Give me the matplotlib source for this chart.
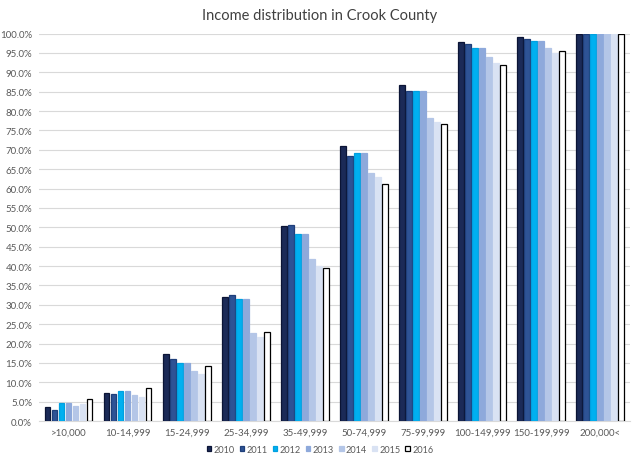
import matplotlib
matplotlib.use("Agg")
import matplotlib.pyplot as plt
import numpy as np
from matplotlib.ticker import PercentFormatter

plt.rcParams['font.family'] = ['Lato', 'DejaVu Sans']

categories = [">10,000", "10-14,999", "15-24,999", "25-34,999", "35-49,999",
              "50-74,999", "75-99,999", "100-149,999", "150-199,999", "200,000<"]
years = ["2010", "2011", "2012", "2013", "2014", "2015", "2016"]
v2010 = [3.6, 7.2, 17.2, 32.1, 50.3, 71.0, 86.7, 97.9, 99.0, 100.0]
v2011 = [2.8, 7.0, 15.9, 32.6, 50.5, 68.5, 85.1, 97.3, 98.6, 100.0]
v2012 = [4.6, 7.8, 15.0, 31.4, 48.2, 69.2, 85.1, 96.4, 98.2, 100.0]
v2013 = [4.6, 7.8, 15.0, 31.4, 48.2, 69.2, 85.1, 96.4, 98.2, 100.0]
v2014 = [4.0, 6.8, 13.0, 22.7, 41.8, 64.1, 78.2, 94.0, 96.2, 100.0]
v2015 = [4.3, 6.2, 12.2, 21.6, 40.0, 63.0, 77.1, 92.5, 95.1, 100.0]
v2016 = [5.6, 8.4, 14.2, 23.1, 39.6, 61.3, 76.6, 92.0, 95.4, 100.0]
series = [v2010, v2011, v2012, v2013, v2014, v2015, v2016]

faces = ["#1B2A57", "#2E5395", "#00B0F0", "#8EA9DB", "#B4C6E7", "#D9E2F3", "#FFFFFF"]
edges = ["#0B1435", "#1F3F7A", "#00A0E0", "#8EA9DB", "#B4C6E7", "#D9E2F3", "#000000"]

fig = plt.figure(figsize=(6.4, 4.64), dpi=100)
ax = fig.add_axes([0.061, 0.0905, 0.923, 0.835])

n = len(years)
x = np.arange(len(categories))
slot = 0.83 / n
for i, (vals, fc, ec) in enumerate(zip(series, faces, edges)):
    pos = x - 0.415 + slot * (i + 0.5)
    ax.bar(pos, vals, width=slot * 0.8, color=fc, edgecolor=ec,
           linewidth=0.9, label=years[i], zorder=3)

ax.set_xlim(-0.5, len(categories) - 0.5)
ax.set_ylim(0, 100)
ax.set_yticks(np.arange(0, 100.1, 5))
ax.yaxis.set_major_formatter(PercentFormatter(decimals=1))
ax.set_xticks(x)
ax.set_xticklabels(categories)
ax.tick_params(axis='both', length=0, labelsize=7, colors="#595959", pad=5)
ax.tick_params(axis='x', pad=5)
ax.grid(axis='y', color="#D9D9D9", linewidth=0.8, zorder=0)
for s in ["top", "right", "left"]:
    ax.spines[s].set_visible(False)
ax.spines["bottom"].set_color("#D9D9D9")

fig.text(0.5, 0.965, "Income distribution in Crook County", ha="center", va="center",
         fontsize=10.5, color="#404040")

leg = fig.legend(loc="center", bbox_to_anchor=(0.5, 0.029), ncol=7, frameon=False,
                 fontsize=6.6, handlelength=0.5, handleheight=0.5, handletextpad=0.25,
                 columnspacing=0.55, labelcolor="#595959")

fig.savefig("out.png", dpi=100)
